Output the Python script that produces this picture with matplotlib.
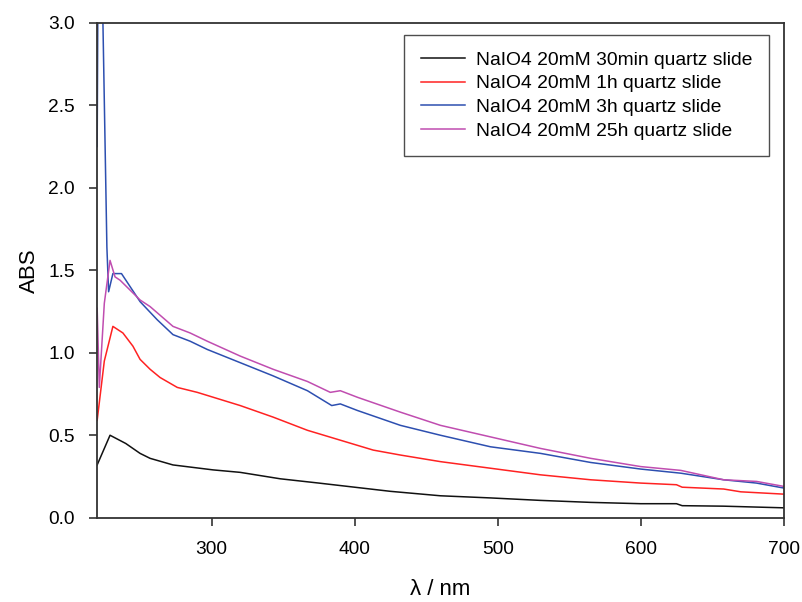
import numpy as np
import matplotlib
matplotlib.use("Agg")
import matplotlib.pyplot as plt

plt.rcParams['font.family'] = ['Liberation Sans', 'DejaVu Sans']

# wavelength (nm) / absorbance
wl_30min = [220, 229, 240, 250, 257, 273, 301, 320, 348, 375, 400, 425, 460, 495,
            530, 565, 600, 625, 629, 658, 700]
abs_30min = [0.32, 0.50, 0.45, 0.39, 0.36, 0.32, 0.29, 0.275, 0.236, 0.21, 0.185, 0.16,
             0.133, 0.12, 0.105, 0.093, 0.085, 0.085, 0.073, 0.07, 0.06]

wl_1h = [220, 225, 231, 238, 245, 250, 257, 264, 276, 290, 320, 343, 367, 390, 413,
         432, 460, 495, 530, 565, 600, 625, 629, 658, 670, 700]
abs_1h = [0.59, 0.95, 1.16, 1.12, 1.04, 0.96, 0.90, 0.85, 0.79, 0.76, 0.68, 0.61, 0.53,
          0.47, 0.41, 0.38, 0.34, 0.30, 0.26, 0.23, 0.21, 0.20, 0.185, 0.174, 0.157, 0.143]

wl_3h = [220, 221, 222, 226.8, 228, 231, 237, 250, 262, 273, 285, 297, 320, 343, 367,
         384, 390, 402, 432, 460, 495, 530, 565, 600, 628, 658, 681, 700]
abs_3h = [2.25, 4.0, 4.0, 1.64, 1.37, 1.48, 1.48, 1.31, 1.20, 1.11, 1.07, 1.02, 0.94,
          0.86, 0.77, 0.68, 0.69, 0.65, 0.56, 0.50, 0.43, 0.39, 0.335, 0.295, 0.27,
          0.23, 0.21, 0.18]

wl_25h = [220, 221.5, 225, 229, 232.5, 236, 250, 257, 273, 285, 297, 320, 343, 367,
          383, 390, 402, 432, 460, 495, 530, 565, 600, 628, 658, 681, 700]
abs_25h = [1.27, 0.79, 1.30, 1.56, 1.46, 1.44, 1.32, 1.28, 1.16, 1.12, 1.07, 0.98, 0.90,
           0.826, 0.76, 0.77, 0.73, 0.64, 0.56, 0.49, 0.42, 0.36, 0.31, 0.287, 0.23,
           0.22, 0.19]

labels = ["NaIO4 20mM 30min quartz slide", "NaIO4 20mM 1h quartz slide",
          "NaIO4 20mM 3h quartz slide", "NaIO4 20mM 25h quartz slide"]
colors = ["#111111", "#ff2222", "#2d4fb0", "#c04db0"]

fig = plt.figure(figsize=(8.03, 6.02), dpi=100)
ax = fig.add_axes([0.121, 0.140, 0.855, 0.822])

series = [(wl_30min, abs_30min), (wl_1h, abs_1h), (wl_3h, abs_3h), (wl_25h, abs_25h)]
for (x, y), lab, c in zip(series, labels, colors):
    ax.plot(x, y, color=c, lw=1.1, label=lab)

ax.set_xlim(220, 700)
ax.set_ylim(0, 3.0)
ax.set_xticks([300, 400, 500, 600, 700])
ax.set_yticks(np.arange(0, 3.01, 0.5))
ax.yaxis.set_major_formatter(matplotlib.ticker.FormatStrFormatter('%.1f'))
ax.tick_params(direction='out', length=6, width=1.2, color='#333333',
               labelsize=13.8, top=False, right=False)
ax.tick_params(axis='x', pad=11)
ax.tick_params(axis='y', pad=10)
for s in ax.spines.values():
    s.set_color('#333333')
    s.set_linewidth(1.3)

ax.set_xlabel("λ / nm", fontsize=16, labelpad=15)
ax.set_ylabel("ABS", fontsize=16, labelpad=6)

leg = ax.legend(loc='upper right', fontsize=13.9, frameon=True, fancybox=False,
                edgecolor='#222222', handlelength=2.3, handletextpad=0.55,
                borderpad=0.85, labelspacing=0.32, borderaxespad=0,
                bbox_to_anchor=(0.978, 0.976))
leg.get_frame().set_linewidth(1.0)

fig.savefig("out.png", dpi=100)
